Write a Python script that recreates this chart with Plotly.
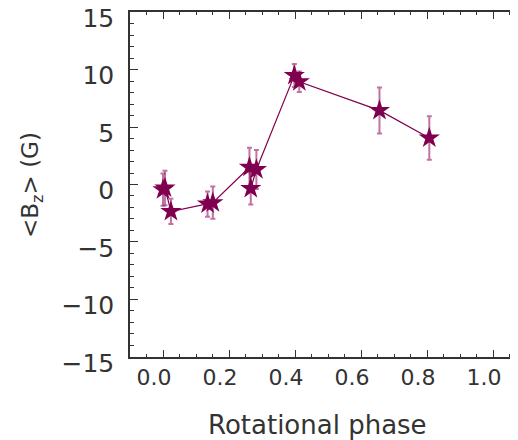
import plotly.graph_objects as go

phase = [0.000, 0.006, 0.024, 0.135, 0.151, 0.262, 0.266, 0.283, 0.398, 0.413, 0.656, 0.807]
bz    = [-0.45, -0.30, -2.35, -1.70, -1.58, 1.50, -0.35, 1.30, 9.50, 8.95, 6.45, 4.05]
bz_err = [1.40, 1.50, 1.10, 1.10, 1.40, 1.70, 1.40, 1.70, 1.00, 0.90, 2.00, 1.90]

x_title = "Rotational phase"
y_title = "<B<sub>z</sub>> (G)"

col = "rgb(128,0,80)"
txt = "#333333"
font = "DejaVu Sans"

fig = go.Figure()
fig.add_trace(go.Scatter(
    x=phase, y=bz, mode="lines",
    line=dict(color=col, width=1.2),
    showlegend=False, hoverinfo="skip",
))
fig.add_trace(go.Scatter(
    x=phase, y=bz, mode="markers",
    marker=dict(symbol="star", size=16, color=col, line=dict(width=0)),
    error_y=dict(type="data", array=bz_err, visible=True,
                 color="rgba(160,40,110,0.65)", thickness=2, width=2.5),
    showlegend=False,
))

fig.update_layout(
    width=518, height=440,
    margin=dict(l=122, r=0, t=4, b=91),
    paper_bgcolor="white", plot_bgcolor="white",
    font=dict(family=font, color=txt, size=22),
)
fig.update_xaxes(
    range=[-0.1, 1.1], tickvals=[0.0, 0.2, 0.4, 0.6, 0.8, 1.0],
    ticktext=["0.0", "0.2", "0.4", "0.6", "0.8", "1.0"],
    ticks="inside", ticklen=7, tickwidth=1, tickcolor="#333",
    minor=dict(dtick=0.05, tick0=0, ticks="inside", ticklen=3, tickcolor="#333"),
    showline=True, linecolor="#333", linewidth=1.5, mirror="ticks",
    showgrid=False, zeroline=False, automargin=False,
    tickfont=dict(size=22, color=txt), ticklabelshift=-9,
)
fig.update_yaxes(
    range=[-15.02, 15.02], tickvals=[-15, -10, -5, 0, 5, 10, 15],
    ticktext=["\u221215", "\u221210", "\u22125", "0", "5", "10", "15"],
    ticks="inside", ticklen=8, tickwidth=1, tickcolor="#333",
    minor=dict(dtick=1, tick0=0, ticks="inside", ticklen=4, tickcolor="#333"),
    showline=True, linecolor="#333", linewidth=1.5, mirror=False,
    showgrid=False, zeroline=False, automargin=False,
    tickfont=dict(size=25, color=txt), ticklabelstandoff=9,
    ticklabelshift=6, ticklabeloverflow="allow",
)
fig.add_annotation(
    text=x_title, xref="paper", yref="paper", x=0.4735, y=-0.197,
    xanchor="center", yanchor="middle", showarrow=False,
    font=dict(size=26, color=txt, family=font),
)
fig.add_annotation(
    text=y_title, xref="paper", yref="paper", x=-0.2475, y=0.4986,
    xanchor="center", yanchor="middle", showarrow=False, textangle=-90,
    font=dict(size=23, color=txt, family=font),
)

fig.write_html("out.html")
